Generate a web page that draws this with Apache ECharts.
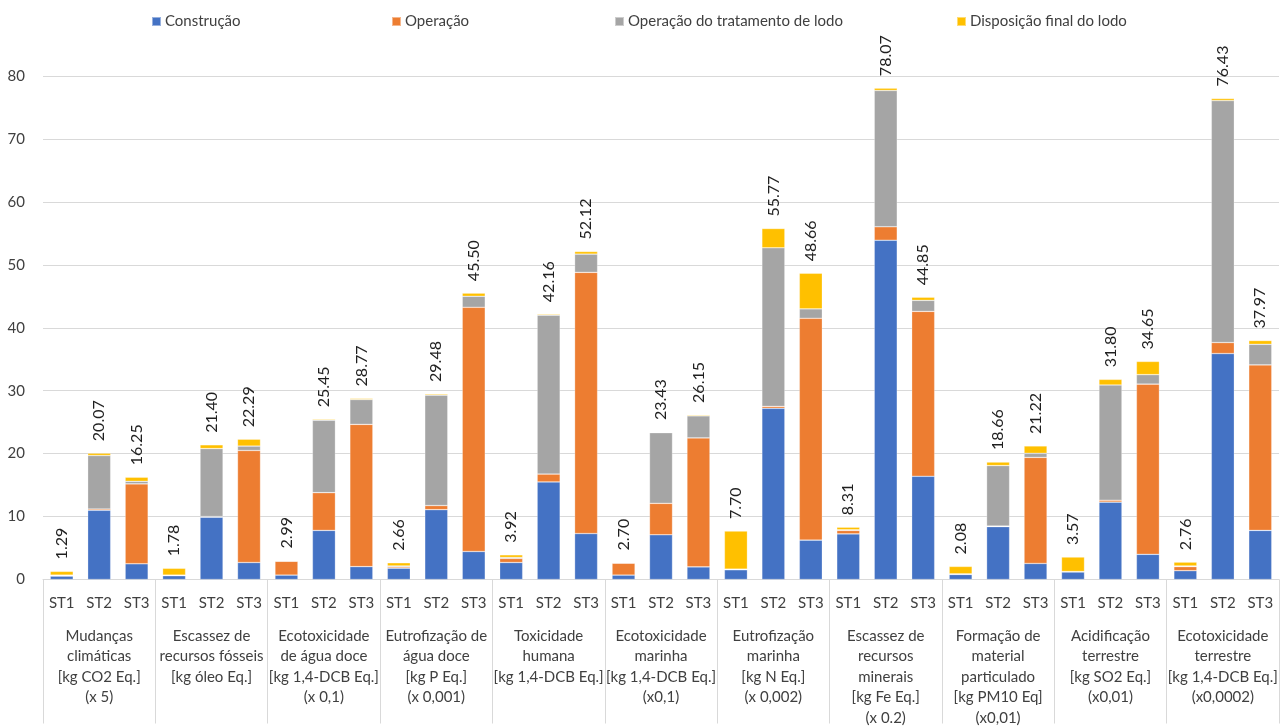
<!DOCTYPE html>
<html>
<head>
<meta charset="utf-8">
<script src="https://cdn.jsdelivr.net/npm/echarts@6/dist/echarts.min.js"></script>
<style>
html,body{margin:0;padding:0;background:#fff;}
#chart{width:1282px;height:728px;}
</style>
</head>
<body>
<div id="chart"></div>
<script>
const groups = [
  "Mudanças\nclimáticas\n[kg CO2 Eq.]\n(x 5)",
  "Escassez de\nrecursos fósseis\n[kg óleo Eq.]",
  "Ecotoxicidade\nde água doce\n[kg 1,4-DCB Eq.]\n(x 0,1)",
  "Eutrofização de\nágua doce\n[kg P Eq.]\n(x 0,001)",
  "Toxicidade\nhumana\n[kg 1,4-DCB Eq.]",
  "Ecotoxicidade\nmarinha\n[kg 1,4-DCB Eq.]\n(x0,1)",
  "Eutrofização\nmarinha\n[kg N Eq.]\n(x 0,002)",
  "Escassez de\nrecursos\nminerais\n[kg Fe Eq.]\n(x 0.2)",
  "Formação de\nmaterial\nparticulado\n[kg PM10 Eq]\n(x0,01)",
  "Acidificação\nterrestre\n[kg SO2 Eq.]\n(x0,01)",
  "Ecotoxicidade\nterrestre\n[kg 1,4-DCB Eq.]\n(x0,0002)"
];
const stages = ["ST1", "ST2", "ST3"];
const seriesNames = ["Construção", "Operação", "Operação do tratamento de lodo", "Disposição final do lodo"];
const yTicks = [0, 10, 20, 30, 40, 50, 60, 70, 80];

const construcao = [0.55,11.0,2.5, 0.6,9.9,2.7, 0.7,7.8,2.05, 1.8,11.1,4.45, 2.7,15.5,7.3, 0.7,7.1,2.0, 1.55,27.2,6.25, 7.25,53.9,16.4, 0.8,8.4,2.55, 1.2,12.3,4.0, 1.4,35.9,7.8];
const operacao = [0.05,0.2,12.7, 0.05,0.1,17.8, 2.2,6.0,22.6, 0.2,0.65,38.8, 0.65,1.25,41.5, 1.9,5.0,20.5, 0.05,0.3,35.25, 0.55,2.15,26.2, 0.05,0.1,16.85, 0.05,0.3,27.05, 0.65,1.75,26.3];
const tratamento = [0.1,8.5,0.4, 0.05,10.8,0.7, 0.04,11.5,3.95, 0.15,17.55,1.75, 0.15,25.25,2.9, 0.02,11.23,3.5, 0.05,25.2,1.5, 0.1,21.65,1.75, 0.05,9.6,0.65, 0.02,18.3,1.5, 0.1,38.45,3.27];
const disposicao = [0.59,0.37,0.65, 1.08,0.6,1.09, 0.05,0.15,0.17, 0.51,0.18,0.5, 0.42,0.16,0.42, 0.08,0.1,0.15, 6.05,3.07,5.66, 0.41,0.37,0.5, 1.18,0.56,1.17, 2.3,0.9,2.1, 0.61,0.33,0.6];
const totais = [1.29,20.07,16.25, 1.78,21.40,22.29, 2.99,25.45,28.77, 2.66,29.48,45.50, 3.92,42.16,52.12, 2.70,23.43,26.15, 7.70,55.77,48.66, 8.31,78.07,44.85, 2.08,18.66,21.22, 3.57,31.80,34.65, 2.76,76.43,37.97];

const colors = ["#4472C4", "#ED7D31", "#A5A5A5", "#FFC000"];
const FONT = "Lato";
const barCats = [];
groups.forEach(() => stages.forEach(s => barCats.push(s)));
const values = [construcao, operacao, tratamento, disposicao];

const legendLefts = [146, 386, 609, 951];
const legends = seriesNames.map((n, i) => ({
  data: [n], left: legendLefts[i], top: 9, icon: 'rect', itemWidth: 9, itemHeight: 9, itemGap: 4,
  selectedMode: false,
  textStyle: { fontFamily: FONT, fontSize: 15, color: '#404040', padding: [0, 0, 0, -1] }
}));

const series = seriesNames.map((n, i) => {
  const s = {
    name: n, type: 'bar', stack: 'total', barWidth: 23,
    itemStyle: { color: colors[i], borderColor: 'rgba(255,255,255,0.45)', borderWidth: 0.6 },
    data: values[i], animation: false
  };
  if (i === 3) {
    s.label = {
      show: true, position: 'top', rotate: 90, distance: 12,
      align: 'left', verticalAlign: 'middle',
      fontFamily: FONT, fontSize: 16, color: '#1f1f1f',
      formatter: p => totais[p.dataIndex].toFixed(2)
    };
  }
  return s;
});

const chart = echarts.init(document.getElementById('chart'), null, { renderer: 'canvas' });
chart.setOption({
  animation: false,
  backgroundColor: '#fff',
  legend: legends,
  grid: { left: 43, right: 3, top: 76, bottom: 144, containLabel: false },
  xAxis: [
    {
      type: 'category', data: barCats, position: 'bottom',
      axisLine: { show: true, lineStyle: { color: '#d9d9d9', width: 1 } },
      axisTick: { show: false },
      axisLabel: { interval: 0, margin: 16, fontFamily: FONT, fontSize: 15, color: '#404040' }
    },
    {
      type: 'category', data: groups, position: 'bottom', offset: 0,
      axisLine: { show: false },
      axisTick: { show: true, length: 144, interval: 0, lineStyle: { color: '#d9d9d9', width: 1 } },
      axisLabel: { interval: 0, margin: 46, fontFamily: FONT, fontSize: 15, lineHeight: 20.5, color: '#404040' }
    }
  ],
  yAxis: {
    type: 'value', min: 0, max: 80, interval: 10,
    axisLine: { show: false }, axisTick: { show: false },
    axisLabel: { margin: 18, fontFamily: FONT, fontSize: 15, color: '#404040',
      formatter: v => yTicks.includes(v) ? String(v) : '' },
    splitLine: { lineStyle: { color: '#d9d9d9', width: 1 } }
  },
  series: series
});
</script>
</body>
</html>
